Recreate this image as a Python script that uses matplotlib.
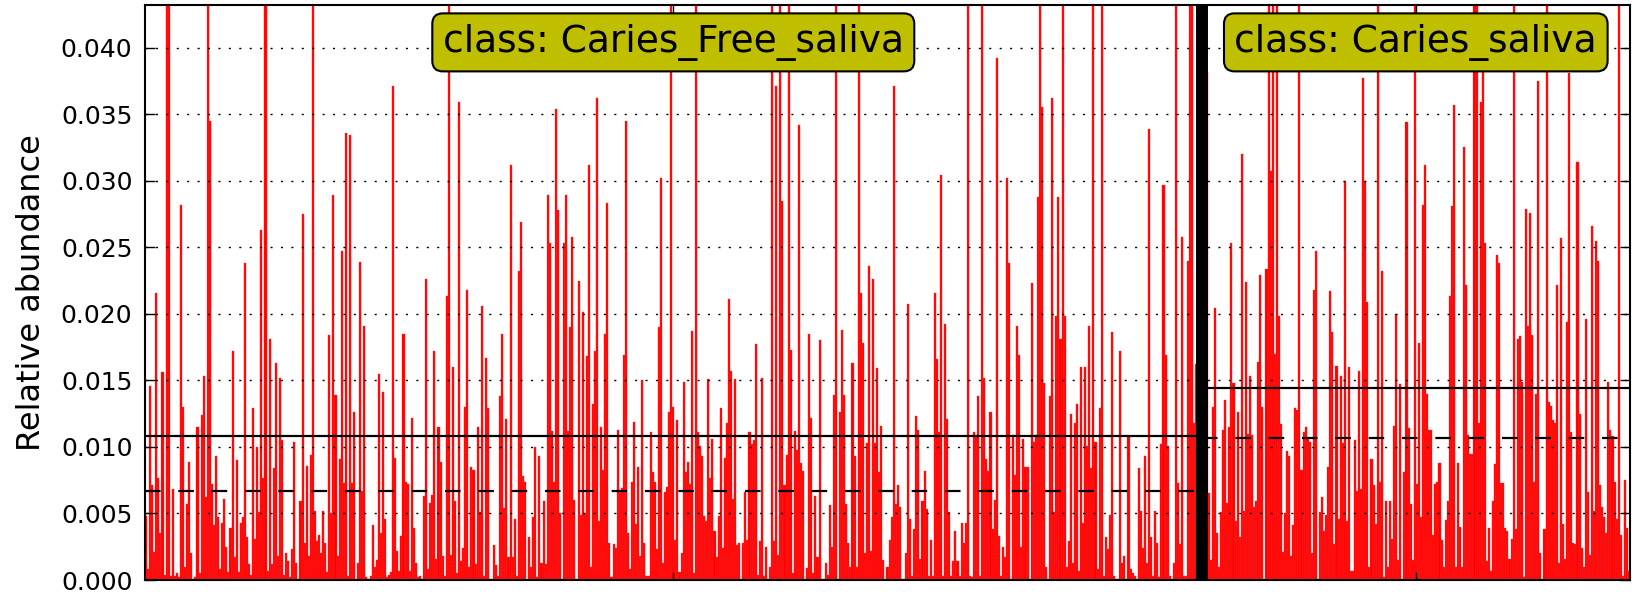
import numpy as np
import matplotlib
matplotlib.use('Agg')
import matplotlib.pyplot as plt

# two classes, one bar per sample
classes = ['Caries_Free_saliva', 'Caries_saliva']

# relative abundance per sample, in per mille (bars taller than the axis are cut off at the top)
free_pm = [
    4.8, 0.8, 14.6, 7.1, 2.1, 21.6, 7.7, 3.5, 15.6, 0.4, 50, 50, 0.3, 6.8, 0.3, 0.5, 0.2, 28.2, 13.0, 1.0,
    5.7, 8.9, 2.0, 0.1, 0.2, 11.5, 0.5, 12.4, 15.3, 6.2, 50, 34.5, 7.2, 4.1, 9.3, 4.7, 0.8, 4.3, 6.1, 2.5,
    0.6, 3.9, 17.2, 1.7, 9.0, 0.6, 4.3, 4.7, 23.8, 3.2, 1.2, 0.4, 12.9, 3.1, 10.0, 5.1, 26.3,
    7.7, 50, 0.7, 18.1, 1.2, 8.4, 16.3, 1.8, 15.2, 10.5, 0.4, 2.0, 1.4, 0.2, 2.3, 10.4, 1.3, 0.1, 5.9, 27.5,
    2.8, 8.6, 1.8, 9.4, 50, 5.2, 2.9, 3.4, 2.0, 5.2, 2.8, 0.6, 18.4, 5.0, 28.9, 13.9, 1.8, 9.1, 24.7, 7.3,
    33.6, 0.3, 33.4, 7.3, 12.6, 0.1, 1.3, 23.9, 6.7, 19.1, 0.2, 0.1, 0.3, 4.1, 1.0, 1.5, 15.5,
    3.5, 14.1, 4.6, 0.2, 0.4, 0.6, 37.1, 9.2, 2.2, 0.7, 3.3, 18.5, 7.4, 7.2, 0.7, 12.2, 3.9, 1.3, 0.2, 0.3,
    0.1, 6.3, 22.6, 0.8, 5.8, 6.4, 17.2, 1.6, 11.5, 8.9, 1.8, 0.3, 21.3, 50, 1.9, 16.0, 5.9, 0.5, 35.9, 1.4,
    2.4, 13.0, 21.8, 1.0, 8.5, 8.3, 1.2, 11.5, 5.1, 20.6, 0.3, 16.7, 12.9, 0.1, 0.1, 2.6, 1.1, 0.3, 13.8, 18.5,
    5.4, 12.1, 1.7, 31.2, 1.7, 4.6, 0.3, 23.2, 26.9, 7.8, 7.4, 0.0, 3.2, 1.0, 4.7, 10.0, 0.2, 9.3, 1.3, 5.9,
    1.2, 28.9, 25.3, 11.2, 7.4, 35.4, 27.8, 5.0, 0.1, 25.3, 28.9, 11.2, 19.0, 25.8, 6.0, 0.1, 22.5, 4.9, 20.1, 5.0,
    16.8, 31.2, 1.0, 13.2, 17.2, 36.2, 4.4, 11.5, 8.3, 18.5, 28.3, 2.8, 0.2, 2.7, 2.4, 11.3, 6.6, 6.9, 16.9,
    34.5, 3.5, 0.8, 7.4, 11.9, 4.2, 8.5, 1.8, 15.0, 2.8, 0.3, 0.3, 11.1, 8.1, 7.4, 2.3, 19.0, 30.2, 1.3, 6.6,
    7.0, 12.6, 50, 13.0, 3.0, 12.0, 0.6, 2.0, 14.9, 8.1, 8.9, 7.2, 18.7, 0.5, 50, 11.1, 10.1, 9.3, 4.8, 4.4,
    15.1, 7.7, 10.6, 3.7, 1.7, 4.8, 12.9, 2.4, 9.2, 11.8, 21.1, 15.7, 6.1, 15.1, 2.6, 2.8, 0.1, 2.8, 6.6, 3.0, 11.1,
    10.2, 10.5, 17.7, 0.4, 2.9, 15.2, 0.3, 2.5, 0.1, 1.0, 50, 2.9, 37.1, 1.9, 50, 28.5, 7.1, 9.4, 50, 17.3,
    0.5, 11.2, 9.8, 34.2, 8.8, 8.2, 0.1, 0.9, 18.5, 12.2, 0.5, 6.3, 1.7, 18.0, 0.1, 0.1, 1.3, 0.4, 5.6, 2.5,
    13.9, 50, 0.1, 12.6, 18.8, 13.9, 5.7, 2.8, 1.0, 16.3, 9.3, 1.0, 50, 21.6, 17.8, 2.0, 10.3, 23.6, 2.2, 22.6,
    10.3, 15.9,
    8.1, 11.6, 1.5, 0.1, 1.0, 3.0, 4.7, 37.1, 5.7, 7.1, 5.5, 0.1, 0.1, 2.0, 20.7, 4.6, 0.3, 3.8, 12.3, 11.3,
    1.6, 5.9, 8.2, 5.3, 0.3, 3.0, 0.3, 21.6, 16.6, 11.1, 30.4, 0.3, 19.2, 12.1, 5.1, 0.3, 1.4, 3.7, 1.4, 0.3,
    4.3, 2.8, 4.3, 50, 0.3, 0.2, 11.1, 10.8, 13.8, 0.3, 50, 15.2, 9.1, 8.2, 12.6, 3.8, 6.0, 39.2, 3.3, 0.3,
    2.5, 1.7, 30.2, 23.8, 0.1, 10.9, 7.9, 19.1, 16.9, 2.5, 10.6, 8.5, 8.5, 0.1, 22.3, 10.4, 10.9, 28.8, 50, 35.5,
    14.8, 1.0, 0.1, 13.8, 36.2, 5.1, 19.8, 28.8, 18.1, 50, 19.8, 1.0, 2.9, 12.5, 1.3, 11.8, 13.2, 0.7, 16.0, 4.3,
    16.0, 10.1, 19.1, 8.4, 50, 10.4, 0.8, 12.9, 50, 0.3, 3.2, 2.3, 4.9, 18.6, 0.3, 0.1, 0.1, 17.2, 1.3, 1.8, 0.1,
    10.8, 0.8, 0.5, 0.3, 0.1, 8.4, 5.2, 2.4, 9.3, 1.3, 33.9, 3.2, 0.3, 5.2, 2.8, 0.2, 10.2, 29.7, 16.9, 10.1,
    0.3, 0.1, 1.3, 50, 7.3, 2.7, 25.8, 0.3, 0.3, 24.0, 50, 50, 11.8, 16.2, 21.7, 11.8,
]
caries_pm = [
    3.2, 29.5, 38.2, 6.5, 1.5, 13.0, 20.4, 3.5, 1.0, 5.1, 11.3, 13.5, 5.8, 11.5, 25.3, 14.8, 4.4, 12.6, 3.2,
    32.0, 5.2, 22.4, 11.0, 15.3, 10.9, 5.5, 5.9, 16.4, 22.9, 13.0, 0.1, 23.4, 50, 30.7, 50, 17.0, 50, 19.8, 11.7,
    2.1, 5.0, 9.7, 9.3, 1.8, 4.1, 12.9, 12.8, 50, 8.3, 11.1, 11.5, 10.6, 10.4, 2.0, 21.8, 24.7, 0.1, 5.1, 6.2,
    3.7, 4.9, 8.5, 21.7, 18.6, 2.7, 16.1, 4.6, 15.3, 10.3, 30.0, 4.4, 16.0, 0.7, 0.7, 10.5, 6.7, 15.7, 6.8, 37.7, 30.0,
    20.9, 1.0, 9.1, 7.1, 4.2, 50, 7.4, 23.2, 0.2, 5.9, 1.0, 5.9, 3.1, 11.6, 20.0, 1.5, 14.7, 0.1, 8.1, 34.4,
    11.4, 5.7, 1.5, 50, 7.2, 17.8, 4.7, 28.2, 31.2, 14.0, 11.3, 11.3, 3.4, 7.2, 7.4, 8.8, 3.0, 1.0, 4.5, 5.9,
    21.3, 28.1, 35.7, 1.0, 8.8, 4.0, 1.0, 32.5, 22.2, 10.9, 9.5, 9.5, 50, 50, 11.8, 35.9, 38.2, 25.3, 1.4, 3.9,
    0.7, 5.9, 8.7, 24.4, 23.8, 7.3, 7.3, 3.9, 3.7, 1.6, 3.1, 50, 3.8, 18.1, 18.3, 14.9, 0.2, 27.9, 19.1, 27.6,
    18.4, 7.4, 14.0, 37.5, 2.0, 0.0, 3.8, 50, 13.4, 13.1, 12.0, 11.8, 22.2, 1.3, 25.7, 4.2, 1.6, 19.4, 38.1, 11.1,
    2.8, 2.7, 31.4, 12.5, 2.4, 1.0, 19.6, 6.6, 1.9, 26.6, 5.2, 25.5, 24.0, 7.1, 5.5, 4.7, 3.5, 14.9, 11.3, 10.8,
    7.4, 4.6, 50, 3.4, 0.3, 7.5, 3.9, 0.7,
]

# class mean (solid) and median (dashed)
class_mean = [0.01085, 0.0144]
class_median = [0.0067, 0.0107]

yticks = [0.000, 0.005, 0.010, 0.015, 0.020, 0.025, 0.030, 0.035, 0.040]
ytop = 0.0432

free = np.array(free_pm) / 1000.0
caries = np.array(caries_pm) / 1000.0
vals = np.concatenate([free, caries])
n1, n2 = len(free), len(caries)
N = n1 + n2
starts = [0, n1]
sizes = [n1, n2]

fig = plt.figure(figsize=(16.33, 5.93), dpi=100)
ax = fig.add_axes([145 / 1633, 13 / 593, 1485 / 1633, 575 / 593])

ax.bar(np.arange(N), vals, width=1.0, align='edge', color='red', edgecolor='#ff3030', linewidth=0.3)

for x0, n, m, md in zip(starts, sizes, class_mean, class_median):
    ax.hlines(m, x0, x0 + n, colors='k', linewidth=1.6, zorder=3)
    ax.hlines(md, x0, x0 + n, colors='k', linewidth=1.6, linestyles=(0, (7, 8)), zorder=3)

# separator between the classes
ax.axvline(n1, color='k', linewidth=8.6, zorder=4)

for name, x0, n in zip(classes, starts, sizes):
    ax.text(x0 + n / 2, 0.935, 'class: ' + name, transform=ax.get_xaxis_transform(),
            ha='center', va='center', fontsize=27, zorder=5,
            bbox=dict(boxstyle='round,pad=0.28', fc='#bfbf00', ec='k', lw=1.5))

ax.set_xlim(0, N)
ax.set_ylim(0, ytop)
ax.set_yticks(yticks)
ax.set_yticklabels(['%.3f' % t for t in yticks])
ax.set_xticks([n1 / 2, n1 + n2 / 2])
ax.set_xticklabels([])

ax.yaxis.grid(True, linestyle=(0, (1.5, 6)), color='k', linewidth=1)
ax.tick_params(axis='y', direction='in', left=True, right=True, length=7, width=1, labelsize=18, pad=9)
ax.tick_params(axis='x', direction='in', bottom=True, top=True, length=6, width=1)
for s in ax.spines.values():
    s.set_linewidth(1.5)

ax.set_ylabel('Relative abundance', fontsize=23)
ax.yaxis.set_label_coords(-0.066, 0.5)

fig.savefig('out.png', dpi=100)
